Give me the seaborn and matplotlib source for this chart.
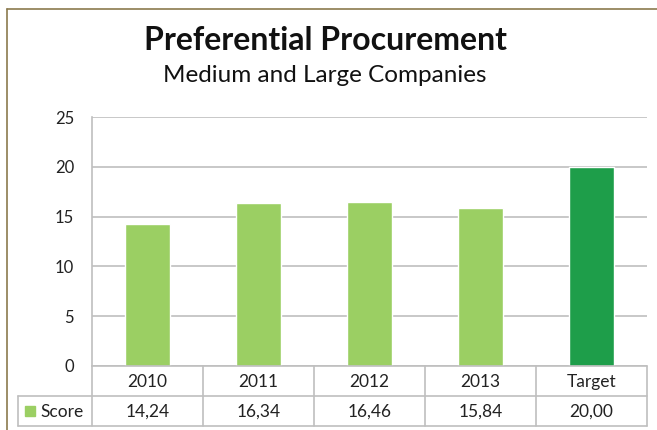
import matplotlib
matplotlib.use("Agg")
import matplotlib.pyplot as plt
from matplotlib.lines import Line2D
from matplotlib.patches import Rectangle
import seaborn as sns
import pandas as pd

categories = ["2010", "2011", "2012", "2013", "Target"]
scores = [14.24, 16.34, 16.46, 15.84, 20.00]
score_labels = ["14,24", "16,34", "16,46", "15,84", "20,00"]
bar_colors = ["#9BCF63", "#9BCF63", "#9BCF63", "#9BCF63", "#1E9E4A"]
y_ticks = [0, 5, 10, 15, 20, 25]

W, H = 657, 430
FONT = "Lato"

sns.set_style("white")
plt.rcParams["font.family"] = [FONT, "DejaVu Sans"]

fig = plt.figure(figsize=(W / 100, H / 100), dpi=100)

def fx(px):
    return px / W

def fy(py):
    return 1 - py / H

# plot area in pixels
left, right, top, bottom = 92, 647, 117, 366
ax = fig.add_axes([fx(left), fy(bottom), fx(right - left), fy(top) - fy(bottom)])

df = pd.DataFrame({"cat": categories, "score": scores})
sns.barplot(data=df, x="cat", y="score", hue="cat", palette=bar_colors,
            width=0.4, legend=False, ax=ax, saturation=1)

ax.set_ylim(0, 25)
ax.set_xlim(-0.5, len(categories) - 0.5)
ax.set_yticks(y_ticks)
ax.yaxis.grid(True, color="#BFBFBF", linewidth=1.2)
ax.set_axisbelow(True)
ax.tick_params(axis="y", length=0, pad=13, labelsize=12, labelcolor="#222222")
ax.set_xticks([])
ax.set_xlabel("")
ax.set_ylabel("")
for s in ["top", "right", "bottom"]:
    ax.spines[s].set_visible(False)
ax.spines["left"].set_color("#BFBFBF")
ax.spines["left"].set_linewidth(1.2)

# data table under the chart
col_w = (right - left) / len(categories)
row1_bot, row2_bot = 396, 426
label_left = 18
lc = "#BFBFBF"
tsize = 12.5

def hline(x0, x1, y):
    fig.add_artist(Line2D([fx(x0), fx(x1)], [fy(y), fy(y)], color=lc, lw=1.2))

def vline(x, y0, y1):
    fig.add_artist(Line2D([fx(x), fx(x)], [fy(y0), fy(y1)], color=lc, lw=1.2))

hline(left, right, bottom)
hline(label_left, right, row1_bot)
hline(label_left, right, row2_bot)
for i in range(len(categories) + 1):
    vline(left + i * col_w, bottom, row2_bot)
vline(label_left, row1_bot, row2_bot)

for i, (c, s) in enumerate(zip(categories, score_labels)):
    cx = left + (i + 0.5) * col_w
    fig.text(fx(cx), fy((bottom + row1_bot) / 2 + 1), c, ha="center", va="center",
             fontsize=tsize, color="#222222")
    fig.text(fx(cx), fy((row1_bot + row2_bot) / 2 + 1), s, ha="center", va="center",
             fontsize=tsize, color="#222222")

fig.add_artist(Rectangle((fx(25), fy(416)), fx(10), fy(406) - fy(416),
                         color="#9BCF63", transform=fig.transFigure))
fig.text(fx(40), fy(412), "Score", ha="left", va="center", fontsize=tsize,
         color="#222222")

# titles
fig.text(fx(325), fy(41), "Preferential Procurement", ha="center", va="center",
         fontsize=23, fontweight="bold", color="#111111")
fig.text(fx(325), fy(75), "Medium and Large Companies", ha="center",
         va="center", fontsize=17.5, color="#111111")

# outer border (top and left only visible)
border = "#8B7A4E"
fig.add_artist(Line2D([fx(7), 1], [fy(9), fy(9)], color=border, lw=1.2))
fig.add_artist(Line2D([fx(7), fx(7)], [fy(9), 0], color=border, lw=1.2))

fig.savefig("out.png", dpi=100)
